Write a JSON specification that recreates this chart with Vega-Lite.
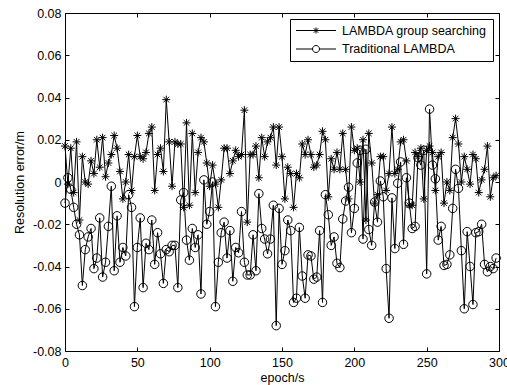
{
"$schema": "https://vega.github.io/schema/vega-lite/v6.json",
"width": 434, "height": 338,
"autosize": {"type": "none"},
"padding": {"left": 65, "top": 13, "right": 8, "bottom": 34},
"background": "white",
"config": {"view": {"stroke": "black", "strokeWidth": 1}, "font": "Liberation Sans"},
"data": {"values": [
{"e":0,"s":"A","v":0.017},{"e":2,"s":"A","v":-0.001},{"e":4,"s":"A","v":0.016},{"e":6,"s":"A","v":-0.005},{"e":8,"s":"A","v":0.019},{"e":10,"s":"A","v":-0.018},{"e":12,"s":"A","v":0.012},{"e":14,"s":"A","v":0.0},{"e":16,"s":"A","v":-0.001},{"e":18,"s":"A","v":0.010},
{"e":20,"s":"A","v":0.004},{"e":22,"s":"A","v":0.020},{"e":24,"s":"A","v":0.007},{"e":26,"s":"A","v":0.021},{"e":28,"s":"A","v":0.0025},{"e":30,"s":"A","v":0.009},{"e":32,"s":"A","v":0.013},{"e":34,"s":"A","v":0.022},{"e":36,"s":"A","v":0.016},{"e":38,"s":"A","v":0.005},
{"e":40,"s":"A","v":-0.008},{"e":42,"s":"A","v":0.0},{"e":44,"s":"A","v":0.013},{"e":46,"s":"A","v":-0.004},{"e":48,"s":"A","v":0.012},{"e":50,"s":"A","v":0.022},{"e":52,"s":"A","v":0.012},{"e":54,"s":"A","v":0.011},{"e":56,"s":"A","v":0.014},{"e":58,"s":"A","v":0.023},
{"e":60,"s":"A","v":0.026},{"e":62,"s":"A","v":-0.004},{"e":64,"s":"A","v":0.013},{"e":66,"s":"A","v":0.016},{"e":68,"s":"A","v":0.005},{"e":70,"s":"A","v":0.039},{"e":72,"s":"A","v":0.019},{"e":74,"s":"A","v":-0.002},{"e":76,"s":"A","v":0.019},{"e":78,"s":"A","v":0.018},
{"e":80,"s":"A","v":0.018},{"e":82,"s":"A","v":-0.012},{"e":84,"s":"A","v":0.028},{"e":86,"s":"A","v":-0.011},{"e":88,"s":"A","v":0.023},{"e":90,"s":"A","v":-0.005},{"e":92,"s":"A","v":0.014},{"e":94,"s":"A","v":0.021},{"e":96,"s":"A","v":0.019},{"e":98,"s":"A","v":0.009},
{"e":100,"s":"A","v":-0.002},{"e":102,"s":"A","v":0.008},{"e":104,"s":"A","v":-0.001},{"e":106,"s":"A","v":-0.012},{"e":108,"s":"A","v":0.001},{"e":110,"s":"A","v":0.016},{"e":112,"s":"A","v":0.016},{"e":114,"s":"A","v":0.004},{"e":116,"s":"A","v":0.010},{"e":118,"s":"A","v":0.015},
{"e":120,"s":"A","v":0.012},{"e":122,"s":"A","v":0.013},{"e":124,"s":"A","v":0.034},{"e":126,"s":"A","v":-0.019},{"e":128,"s":"A","v":0.013},{"e":130,"s":"A","v":0.013},{"e":132,"s":"A","v":0.017},{"e":134,"s":"A","v":0.002},{"e":136,"s":"A","v":0.021},{"e":138,"s":"A","v":0.012},
{"e":140,"s":"A","v":0.019},{"e":142,"s":"A","v":0.021},{"e":144,"s":"A","v":0.026},{"e":146,"s":"A","v":0.008},{"e":148,"s":"A","v":0.026},{"e":150,"s":"A","v":0.012},{"e":152,"s":"A","v":-0.008},{"e":154,"s":"A","v":0.007},{"e":156,"s":"A","v":0.004},{"e":158,"s":"A","v":-0.012},
{"e":160,"s":"A","v":0.004},{"e":162,"s":"A","v":0.002},{"e":164,"s":"A","v":0.018},{"e":166,"s":"A","v":0.013},{"e":168,"s":"A","v":0.020},{"e":170,"s":"A","v":0.013},{"e":172,"s":"A","v":0.007},{"e":174,"s":"A","v":0.008},{"e":176,"s":"A","v":0.013},{"e":178,"s":"A","v":0.024},
{"e":180,"s":"A","v":0.020},{"e":182,"s":"A","v":-0.007},{"e":184,"s":"A","v":0.011},{"e":186,"s":"A","v":0.006},{"e":188,"s":"A","v":0.014},{"e":190,"s":"A","v":0.006},{"e":192,"s":"A","v":0.023},{"e":194,"s":"A","v":0.006},{"e":196,"s":"A","v":-0.008},{"e":198,"s":"A","v":0.026},
{"e":200,"s":"A","v":0.015},{"e":202,"s":"A","v":0.016},{"e":204,"s":"A","v":0.0},{"e":206,"s":"A","v":0.020},{"e":208,"s":"A","v":-0.018},{"e":210,"s":"A","v":0.023},{"e":212,"s":"A","v":0.009},{"e":214,"s":"A","v":-0.010},{"e":216,"s":"A","v":-0.006},{"e":218,"s":"A","v":0.012},
{"e":220,"s":"A","v":0.012},{"e":222,"s":"A","v":-0.004},{"e":224,"s":"A","v":0.004},{"e":226,"s":"A","v":0.026},{"e":228,"s":"A","v":0.004},{"e":230,"s":"A","v":0.006},{"e":232,"s":"A","v":0.019},{"e":234,"s":"A","v":0.020},{"e":236,"s":"A","v":0.010},{"e":238,"s":"A","v":-0.011},
{"e":240,"s":"A","v":-0.011},{"e":242,"s":"A","v":0.014},{"e":244,"s":"A","v":0.012},{"e":246,"s":"A","v":0.016},{"e":248,"s":"A","v":-0.008},{"e":250,"s":"A","v":0.015},{"e":252,"s":"A","v":0.017},{"e":254,"s":"A","v":0.014},{"e":256,"s":"A","v":-0.004},{"e":258,"s":"A","v":0.012},
{"e":260,"s":"A","v":0.014},{"e":262,"s":"A","v":-0.010},{"e":264,"s":"A","v":0.0},{"e":266,"s":"A","v":-0.004},{"e":268,"s":"A","v":0.021},{"e":270,"s":"A","v":0.030},{"e":272,"s":"A","v":0.018},{"e":274,"s":"A","v":0.0},{"e":276,"s":"A","v":0.012},{"e":278,"s":"A","v":0.006},
{"e":280,"s":"A","v":-0.001},{"e":282,"s":"A","v":0.013},{"e":284,"s":"A","v":0.011},{"e":286,"s":"A","v":-0.005},{"e":288,"s":"A","v":0.001},{"e":290,"s":"A","v":0.006},{"e":292,"s":"A","v":0.017},{"e":294,"s":"A","v":-0.007},{"e":296,"s":"A","v":0.002},{"e":298,"s":"A","v":0.003},
{"e":0,"s":"B","v":-0.010},{"e":2,"s":"B","v":0.002},{"e":4,"s":"B","v":-0.0035},{"e":6,"s":"B","v":-0.012},{"e":8,"s":"B","v":-0.020},{"e":10,"s":"B","v":-0.025},{"e":12,"s":"B","v":-0.049},{"e":14,"s":"B","v":-0.032},{"e":16,"s":"B","v":-0.026},{"e":18,"s":"B","v":-0.022},
{"e":20,"s":"B","v":-0.041},{"e":22,"s":"B","v":-0.036},{"e":24,"s":"B","v":-0.017},{"e":26,"s":"B","v":-0.045},{"e":28,"s":"B","v":-0.038},{"e":30,"s":"B","v":-0.021},{"e":32,"s":"B","v":-0.002},{"e":34,"s":"B","v":-0.042},{"e":36,"s":"B","v":-0.016},{"e":38,"s":"B","v":-0.038},
{"e":40,"s":"B","v":-0.031},{"e":42,"s":"B","v":-0.035},{"e":44,"s":"B","v":-0.006},{"e":46,"s":"B","v":-0.012},{"e":48,"s":"B","v":-0.059},{"e":50,"s":"B","v":-0.031},{"e":52,"s":"B","v":-0.017},{"e":54,"s":"B","v":-0.050},{"e":56,"s":"B","v":-0.029},{"e":58,"s":"B","v":-0.032},
{"e":60,"s":"B","v":-0.018},{"e":62,"s":"B","v":-0.039},{"e":64,"s":"B","v":-0.024},{"e":66,"s":"B","v":-0.034},{"e":68,"s":"B","v":-0.048},{"e":70,"s":"B","v":-0.032},{"e":72,"s":"B","v":-0.033},{"e":74,"s":"B","v":-0.030},{"e":76,"s":"B","v":-0.030},{"e":78,"s":"B","v":-0.050},
{"e":80,"s":"B","v":-0.0085},{"e":82,"s":"B","v":-0.005},{"e":84,"s":"B","v":-0.0275},{"e":86,"s":"B","v":-0.037},{"e":88,"s":"B","v":-0.022},{"e":90,"s":"B","v":-0.031},{"e":92,"s":"B","v":-0.025},{"e":94,"s":"B","v":-0.053},{"e":96,"s":"B","v":0.001},{"e":98,"s":"B","v":-0.020},
{"e":100,"s":"B","v":-0.014},{"e":102,"s":"B","v":0.0},{"e":104,"s":"B","v":-0.059},{"e":106,"s":"B","v":-0.038},{"e":108,"s":"B","v":-0.024},{"e":110,"s":"B","v":-0.019},{"e":112,"s":"B","v":-0.036},{"e":114,"s":"B","v":-0.023},{"e":116,"s":"B","v":-0.047},{"e":118,"s":"B","v":-0.031},
{"e":120,"s":"B","v":-0.0335},{"e":122,"s":"B","v":-0.014},{"e":124,"s":"B","v":-0.038},{"e":126,"s":"B","v":-0.044},{"e":128,"s":"B","v":-0.044},{"e":130,"s":"B","v":-0.025},{"e":132,"s":"B","v":-0.042},{"e":134,"s":"B","v":-0.0055},{"e":136,"s":"B","v":-0.022},{"e":138,"s":"B","v":-0.027},
{"e":140,"s":"B","v":-0.034},{"e":142,"s":"B","v":-0.027},{"e":144,"s":"B","v":-0.011},{"e":146,"s":"B","v":-0.068},{"e":148,"s":"B","v":-0.0125},{"e":150,"s":"B","v":-0.039},{"e":152,"s":"B","v":-0.0325},{"e":154,"s":"B","v":-0.018},{"e":156,"s":"B","v":-0.023},{"e":158,"s":"B","v":-0.057},
{"e":160,"s":"B","v":-0.055},{"e":162,"s":"B","v":-0.0215},{"e":164,"s":"B","v":-0.0445},{"e":166,"s":"B","v":-0.055},{"e":168,"s":"B","v":-0.0345},{"e":170,"s":"B","v":-0.035},{"e":172,"s":"B","v":-0.046},{"e":174,"s":"B","v":-0.045},{"e":176,"s":"B","v":-0.023},{"e":178,"s":"B","v":-0.057},
{"e":180,"s":"B","v":-0.006},{"e":182,"s":"B","v":-0.0155},{"e":184,"s":"B","v":-0.030},{"e":186,"s":"B","v":-0.026},{"e":188,"s":"B","v":-0.0385},{"e":190,"s":"B","v":-0.0405},{"e":192,"s":"B","v":-0.0175},{"e":194,"s":"B","v":-0.009},{"e":196,"s":"B","v":-0.0025},{"e":198,"s":"B","v":-0.024},
{"e":200,"s":"B","v":-0.0125},{"e":202,"s":"B","v":0.009},{"e":204,"s":"B","v":0.015},{"e":206,"s":"B","v":-0.027},{"e":208,"s":"B","v":0.0155},{"e":210,"s":"B","v":-0.0225},{"e":212,"s":"B","v":-0.030},{"e":214,"s":"B","v":-0.0095},{"e":216,"s":"B","v":-0.019},{"e":218,"s":"B","v":0.0005},
{"e":220,"s":"B","v":-0.007},{"e":222,"s":"B","v":-0.041},{"e":224,"s":"B","v":-0.0645},{"e":226,"s":"B","v":-0.0075},{"e":228,"s":"B","v":-0.0315},{"e":230,"s":"B","v":-0.0006},{"e":232,"s":"B","v":0.0095},{"e":234,"s":"B","v":-0.0295},{"e":236,"s":"B","v":0.002},{"e":238,"s":"B","v":-0.010},
{"e":240,"s":"B","v":-0.022},{"e":242,"s":"B","v":-0.021},{"e":244,"s":"B","v":0.0115},{"e":246,"s":"B","v":0.008},{"e":248,"s":"B","v":0.015},{"e":250,"s":"B","v":-0.0435},{"e":252,"s":"B","v":0.0345},{"e":254,"s":"B","v":0.008},{"e":256,"s":"B","v":0.0015},{"e":258,"s":"B","v":-0.0275},
{"e":260,"s":"B","v":-0.021},{"e":262,"s":"B","v":-0.0395},{"e":264,"s":"B","v":-0.039},{"e":266,"s":"B","v":-0.0345},{"e":268,"s":"B","v":-0.0125},{"e":270,"s":"B","v":0.006},{"e":272,"s":"B","v":-0.003},{"e":274,"s":"B","v":-0.0325},{"e":276,"s":"B","v":-0.060},{"e":278,"s":"B","v":-0.0235},
{"e":280,"s":"B","v":-0.040},{"e":282,"s":"B","v":-0.058},{"e":284,"s":"B","v":-0.024},{"e":286,"s":"B","v":-0.0235},{"e":288,"s":"B","v":-0.020},{"e":290,"s":"B","v":-0.039},{"e":292,"s":"B","v":-0.0425},{"e":294,"s":"B","v":-0.040},{"e":296,"s":"B","v":-0.041},{"e":298,"s":"B","v":-0.036}
]},
"layer": [
{"mark": {"type": "line", "color": "black", "strokeWidth": 1},
 "encoding": {
  "x": {"field": "e", "type": "quantitative", "scale": {"domain": [0, 300], "nice": false},
        "axis": {"orient": "bottom", "values": [0,50,100,150,200,250,300], "tickSize": -4, "tickColor": "black", "domain": false, "grid": false,
                 "labelFontSize": 12.5, "labelColor": "black", "labelPadding": 9.5, "labelFlush": false, "labelOverlap": false,
                 "title": "epoch/s", "titleFontSize": 12.5, "titleFontWeight": "normal", "titleColor": "black", "titlePadding": 2}},
  "y": {"field": "v", "type": "quantitative", "scale": {"domain": [-0.08, 0.08], "nice": false},
        "axis": {"orient": "left", "values": [-0.08,-0.06,-0.04,-0.02,0,0.02,0.04,0.06,0.08], "tickSize": -4, "tickColor": "black", "domain": false, "grid": false,
                 "labelFontSize": 12.5, "labelColor": "black", "labelPadding": 8, "labelFlush": false, "labelOverlap": false,
                 "labelExpr": "datum.value == 0 ? '0' : (datum.value < 0 ? '-' + format(-datum.value, '.2f') : format(datum.value, '.2f'))",
                 "title": "Resolution error/m", "titleFontSize": 12.5, "titleFontWeight": "normal", "titleColor": "black", "titlePadding": 6}},
  "detail": {"field": "s", "type": "nominal"}
 }},
{"transform": [{"filter": "datum.s == 'A'"}],
 "mark": {"type": "point", "filled": false, "color": "black", "strokeWidth": 1, "opacity": 1, "size": 70,
          "shape": "M0,-0.95V0.95M-0.95,0H0.95M-0.67,-0.67L0.67,0.67M-0.67,0.67L0.67,-0.67"},
 "encoding": {
  "x": {"field": "e", "type": "quantitative", "axis": null},
  "y": {"field": "v", "type": "quantitative", "axis": null}
 }},
{"transform": [{"filter": "datum.s == 'B'"}],
 "mark": {"type": "point", "filled": false, "color": "black", "strokeWidth": 1, "opacity": 1, "size": 72, "shape": "circle"},
 "encoding": {
  "x": {"field": "e", "type": "quantitative", "axis": null},
  "y": {"field": "v", "type": "quantitative", "axis": null}
 }},
{"mark": {"type": "point", "filled": false, "color": "black", "strokeWidth": 1, "opacity": 0, "size": 1600},
 "encoding": {
  "x": {"field": "e", "type": "quantitative",
        "axis": {"orient": "top", "values": [0,50,100,150,200,250,300], "tickSize": -4, "tickColor": "black", "domain": false, "grid": false, "labels": false, "title": null}},
  "y": {"field": "v", "type": "quantitative",
        "axis": {"orient": "right", "values": [-0.08,-0.06,-0.04,-0.02,0,0.02,0.04,0.06,0.08], "tickSize": -4, "tickColor": "black", "domain": false, "grid": false, "labels": false, "title": null}},
  "shape": {"field": "s", "type": "nominal",
            "scale": {"domain": ["A", "B"], "range": ["M-1,0H1M0,-0.15V0.15M-0.11,-0.11L0.11,0.11M-0.11,0.11L0.11,-0.11", "M-1,0H-0.175A0.175,0.175,0,1,1,0.175,0A0.175,0.175,0,1,1,-0.175,0M0.175,0H1"]},
            "legend": {"title": null, "orient": "top-right", "offset": 6, "strokeColor": "black", "fillColor": "white", "padding": 5.5,
                       "symbolSize": 1600, "clipHeight": 12, "rowPadding": 5.5, "symbolOffset": 0, "labelOffset": 5.5,
                       "labelFontSize": 12.5, "labelColor": "black", "symbolStrokeColor": "black", "symbolStrokeWidth": 1, "symbolOpacity": 1,
                       "symbolFillColor": "transparent",
                       "labelExpr": "datum.value == 'A' ? 'LAMBDA group searching' : 'Traditional LAMBDA'"}}
 }}
],
"resolve": {"axis": {"x": "independent", "y": "independent"}}
}
